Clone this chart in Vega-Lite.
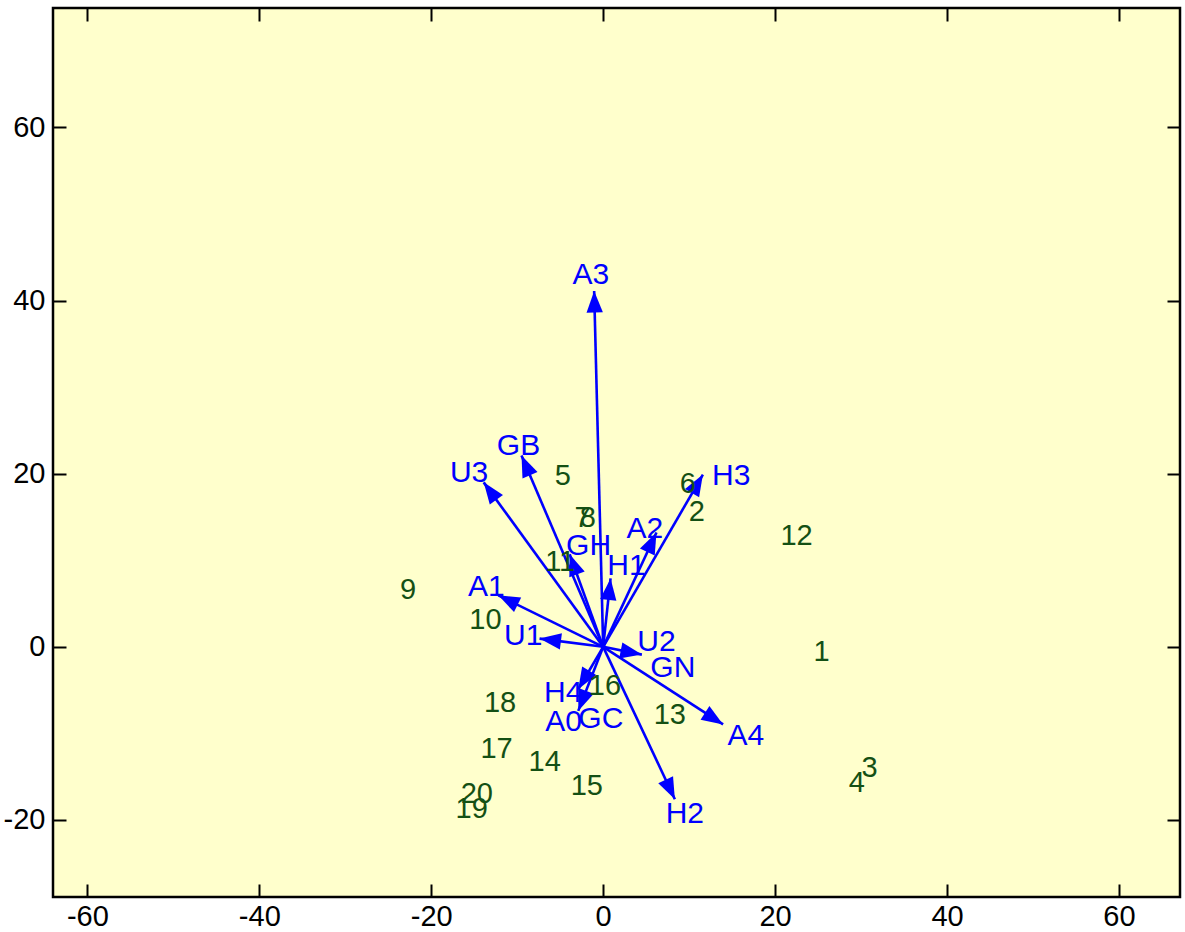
{
  "$schema": "https://vega.github.io/schema/vega-lite/v6.json",
  "width": 1127,
  "height": 889,
  "autosize": "none",
  "padding": {"left": 53, "top": 8, "right": 5, "bottom": 35},
  "background": "#FFFFFF",
  "datasets": {
    "arrows": [
      {"name": "A3", "x": -1.05, "y": 41.1, "lx": -1.43, "ly": 43.3},
      {"name": "GB", "x": -9.5, "y": 22.1, "lx": -9.85, "ly": 23.6},
      {"name": "U3", "x": -13.9, "y": 19.0, "lx": -15.6, "ly": 20.4},
      {"name": "H3", "x": 11.6, "y": 19.9, "lx": 14.9, "ly": 20.1},
      {"name": "A2", "x": 6.2, "y": 13.2, "lx": 4.85, "ly": 14.0},
      {"name": "GH", "x": -3.9, "y": 10.7, "lx": -1.7, "ly": 12.0},
      {"name": "H1", "x": 0.86, "y": 7.9, "lx": 2.7, "ly": 9.65},
      {"name": "A1", "x": -12.2, "y": 5.95, "lx": -13.6, "ly": 7.3},
      {"name": "U1", "x": -7.4, "y": 0.95, "lx": -9.3, "ly": 1.56},
      {"name": "U2", "x": 4.5, "y": -0.9, "lx": 6.2, "ly": 0.87},
      {"name": "A4", "x": 13.95, "y": -8.96, "lx": 16.6, "ly": -10.0},
      {"name": "H2", "x": 8.34, "y": -17.6, "lx": 9.5, "ly": -19.0},
      {"name": "H4", "x": -2.9, "y": -4.9, "lx": -4.65, "ly": -5.0},
      {"name": "A0", "x": -2.9, "y": -7.4, "lx": -4.6, "ly": -8.3}
    ],
    "labelsOnly": [
      {"name": "GN", "lx": 8.1, "ly": -2.1},
      {"name": "GC", "lx": -0.27, "ly": -8.0}
    ],
    "sites": [
      {"label": "1", "x": 25.4, "y": -0.3},
      {"label": "2", "x": 10.9, "y": 15.9},
      {"label": "3", "x": 31.0, "y": -13.7},
      {"label": "4", "x": 29.5, "y": -15.4},
      {"label": "5", "x": -4.7, "y": 20.1},
      {"label": "6", "x": 9.85, "y": 19.2},
      {"label": "7", "x": -2.4, "y": 15.2},
      {"label": "8", "x": -1.8, "y": 15.2},
      {"label": "9", "x": -22.7, "y": 6.9},
      {"label": "10", "x": -13.7, "y": 3.4},
      {"label": "11", "x": -5.0, "y": 10.2},
      {"label": "12", "x": 22.5, "y": 13.1},
      {"label": "13", "x": 7.75, "y": -7.5},
      {"label": "14", "x": -6.8, "y": -13.0},
      {"label": "15", "x": -1.9, "y": -15.7},
      {"label": "16", "x": 0.2, "y": -4.2},
      {"label": "17", "x": -12.4, "y": -11.5},
      {"label": "18", "x": -12.0, "y": -6.1},
      {"label": "19", "x": -15.3, "y": -18.4},
      {"label": "20", "x": -14.7, "y": -16.6}
    ]
  },
  "config": {
    "view": {"fill": "#FFFFCC", "stroke": "#000000", "strokeWidth": 2.5},
    "axis": {
      "domain": false,
      "grid": false,
      "tickSize": -13,
      "tickColor": "#000000",
      "tickWidth": 2,
      "labelFont": "Liberation Sans",
      "labelFontSize": 29,
      "labelColor": "#000000",
      "title": null,
      "labelExpr": "'' + datum.value"
    }
  },
  "resolve": {"axis": {"x": "independent", "y": "independent"}},
  "layer": [
    {
      "data": {"name": "arrows"},
      "mark": {"type": "rule", "color": "#0000FF", "strokeWidth": 2.6},
      "encoding": {
        "x": {"field": "x", "type": "quantitative", "scale": {"domain": [-64, 67.1], "nice": false, "zero": false}, "axis": {"orient": "bottom", "values": [-60, -40, -20, 0, 20, 40, 60], "labelPadding": 18}},
        "y": {"field": "y", "type": "quantitative", "scale": {"domain": [-28.9, 73.8], "nice": false, "zero": false}, "axis": {"orient": "left", "values": [-20, 0, 20, 40, 60], "labelPadding": 21}},
        "x2": {"datum": 0},
        "y2": {"datum": 0}
      }
    },
    {
      "data": {"name": "arrows"},
      "transform": [{"calculate": "atan2(datum.x, datum.y) * 180 / PI", "as": "ang"}],
      "mark": {"type": "point", "shape": "M0,0L-0.38,1L0.38,1Z", "filled": true, "color": "#0000FF", "opacity": 1, "size": 1850, "strokeWidth": 0},
      "encoding": {
        "x": {"field": "x", "type": "quantitative", "axis": {"orient": "top", "labels": false, "values": [-60, -40, -20, 0, 20, 40, 60]}},
        "y": {"field": "y", "type": "quantitative", "axis": {"orient": "right", "labels": false, "values": [-20, 0, 20, 40, 60]}},
        "angle": {"field": "ang", "type": "quantitative", "scale": null}
      }
    },
    {
      "data": {"name": "arrows"},
      "mark": {"type": "text", "font": "Liberation Sans", "fontSize": 30, "color": "#0000FF", "align": "center", "baseline": "middle", "dy": 3},
      "encoding": {
        "x": {"field": "lx", "type": "quantitative", "axis": null},
        "y": {"field": "ly", "type": "quantitative", "axis": null},
        "text": {"field": "name"}
      }
    },
    {
      "data": {"name": "labelsOnly"},
      "mark": {"type": "text", "font": "Liberation Sans", "fontSize": 30, "color": "#0000FF", "align": "center", "baseline": "middle", "dy": 3},
      "encoding": {
        "x": {"field": "lx", "type": "quantitative", "axis": null},
        "y": {"field": "ly", "type": "quantitative", "axis": null},
        "text": {"field": "name"}
      }
    },
    {
      "data": {"name": "sites"},
      "mark": {"type": "text", "font": "Liberation Sans", "fontSize": 29, "color": "#145014", "align": "center", "baseline": "middle", "dy": 3},
      "encoding": {
        "x": {"field": "x", "type": "quantitative", "axis": null},
        "y": {"field": "y", "type": "quantitative", "axis": null},
        "text": {"field": "label"}
      }
    }
  ]
}
